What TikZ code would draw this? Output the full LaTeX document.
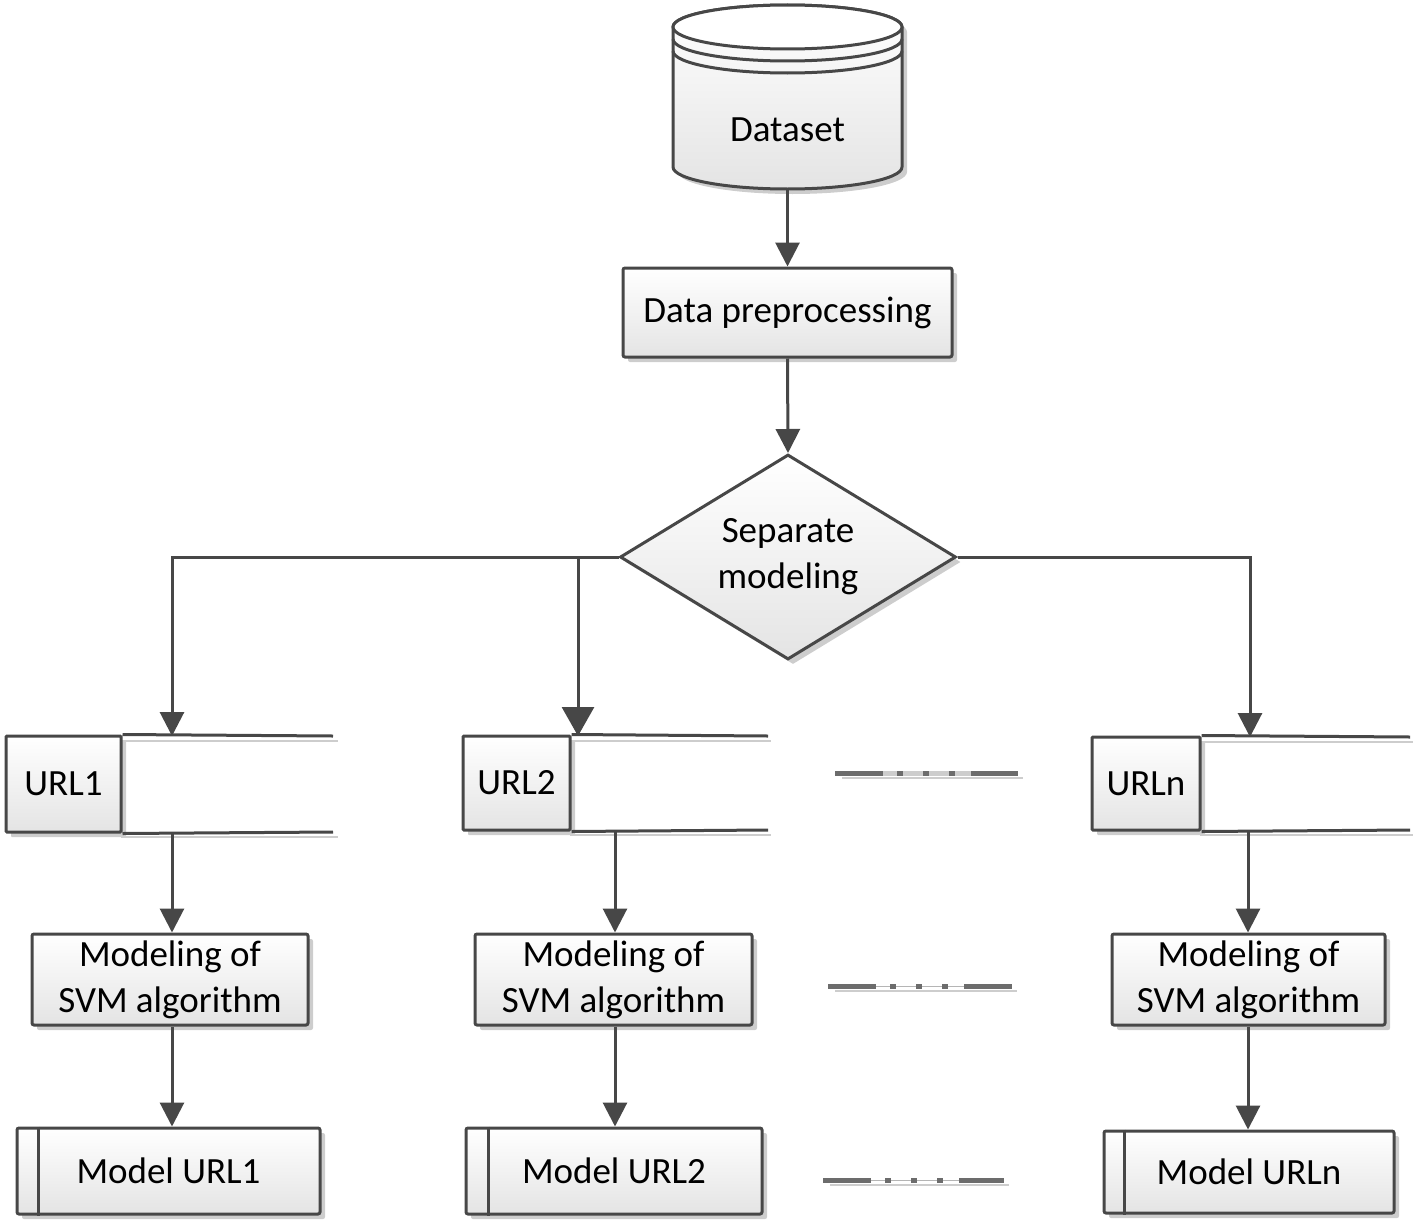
\documentclass[tikz,border=0pt]{standalone}
\usepackage{fontspec}
\setmainfont{Carlito}
\usetikzlibrary{arrows.meta,shapes.geometric,calc,shadows}
\definecolor{ln}{HTML}{474747}
\definecolor{shd}{HTML}{CDCDCD}
\definecolor{fillb}{HTML}{E4E4E4}
\begin{document}
\begin{tikzpicture}[x=1pt,y=-1pt,
  lbl/.style={font=\fontsize{37}{46}\selectfont, align=center, text=black},
  shadedfill/.style={top color=white, bottom color=fillb},
  boxst/.style={lbl, draw=ln, line width=3pt, shadedfill, rounded corners=2pt, inner sep=0pt,
    drop shadow={shadow xshift=5pt, shadow yshift=-5pt, fill=shd, opacity=1}},
  arr/.style={draw=ln, line width=3pt, -{Triangle[length=24pt,width=24pt]}},
  bigarr/.style={draw=ln, line width=3pt, -{Triangle[length=29pt,width=32pt]}},
  sepln/.style={draw=ln, line width=3pt},
  shdln/.style={draw=shd, line width=2.5pt},
  dotln/.style={draw=ln!80, line width=5pt, dash pattern=on 48pt off 14pt on 6pt off 20pt on 6pt off 20pt on 6pt off 16pt on 60pt},
  dotbg/.style={draw=shd, line width=5pt},
]
\useasboundingbox (0,0) rectangle (1418,1231);

% ---------- Dataset cylinder ----------
\fill[shd] (678,32) -- (678,172) arc[start angle=180,end angle=360,x radius=114.5pt,y radius=22pt] -- (907,32) arc[start angle=0,end angle=180,x radius=114.5pt,y radius=22pt] -- cycle;
\path[shadedfill, draw=ln, line width=3pt] (673,27) -- (673,167) arc[start angle=180,end angle=360,x radius=114.5pt,y radius=22pt] -- (902,27) arc[start angle=0,end angle=180,x radius=114.5pt,y radius=22pt] -- cycle;
\draw[draw=ln, line width=3pt, fill=white] (787.5,27) ellipse[x radius=114.5pt,y radius=22pt];
\draw[draw=ln, line width=3pt] (673,39) arc[start angle=180,end angle=360,x radius=114.5pt,y radius=22pt];
\draw[draw=ln, line width=3pt] (673,51) arc[start angle=180,end angle=360,x radius=114.5pt,y radius=22pt];
\node[lbl] (ds) at (787.5,130) {Dataset};
\coordinate (dsb) at (787.5,189);

% ---------- Data preprocessing ----------
\node[boxst, minimum width=329pt, minimum height=89pt] (pre) at (787.5,312.5) {Data preprocessing};

% ---------- Diamond ----------
\node[boxst, diamond, aspect=1.64, rounded corners=0pt, minimum width=336pt, minimum height=205pt] (dia) at (788,557) {Separate\\modeling};

% ---------- URL shapes ----------
% URL1
\draw[shdln] (121,741) -- (338,741);
\draw[shdln] (121,837) -- (338,837);
\node[boxst, rounded corners=1pt, minimum width=115pt, minimum height=96pt] (url1) at (63.5,784) {URL1};
\coordinate (u1e) at (333,736);
\coordinate (u1f) at (333,832);
\draw[sepln] (url1.north east) -- (u1e);
\draw[sepln] (url1.south east) -- (u1f);
\coordinate (u1in) at (172,736);
\coordinate (u1out) at (172,832);
% URL2
\draw[shdln] (570,741) -- (771,741);
\draw[shdln] (570,835) -- (771,835);
\node[boxst, rounded corners=1pt, minimum width=107pt, minimum height=94pt] (url2) at (516.5,783) {URL2};
\coordinate (u2e) at (768,736);
\coordinate (u2f) at (768,830);
\draw[sepln] (url2.north east) -- (u2e);
\draw[sepln] (url2.south east) -- (u2f);
\coordinate (u2in) at (578,736);
\coordinate (u2out) at (615,830);
% URLn
\draw[shdln] (1200,742) -- (1413,742);
\draw[shdln] (1200,835) -- (1413,835);
\node[boxst, rounded corners=1pt, minimum width=108pt, minimum height=93pt] (urln) at (1146,783.5) {URLn};
\coordinate (une) at (1410,737);
\coordinate (unf) at (1410,830);
\draw[sepln] (urln.north east) -- (une);
\draw[sepln] (urln.south east) -- (unf);
\coordinate (unin) at (1250,737);
\coordinate (unout) at (1248,830);

% ---------- Modeling boxes ----------
\node[boxst, minimum width=276pt, minimum height=91pt] (mod1) at (170,979.5) {Modeling of\\SVM algorithm};
\node[boxst, minimum width=277pt, minimum height=91pt] (mod2) at (613.5,979.5) {Modeling of\\SVM algorithm};
\node[boxst, minimum width=273pt, minimum height=91pt] (modn) at (1248.5,979.5) {Modeling of\\SVM algorithm};

% ---------- Model boxes ----------
\node[boxst, minimum width=303pt, minimum height=86pt] (m1) at (168.5,1171) {Model URL1};
\draw[sepln] ([xshift=23pt]m1.north west) -- ([xshift=23pt]m1.south west);
\node[boxst, minimum width=296pt, minimum height=86pt] (m2) at (614,1171) {Model URL2};
\draw[sepln] ([xshift=24pt]m2.north west) -- ([xshift=24pt]m2.south west);
\node[boxst, minimum width=290pt, minimum height=82pt] (mn) at (1249,1172) {Model URLn};
\draw[sepln] ([xshift=22pt]mn.north west) -- ([xshift=22pt]mn.south west);

% ---------- ellipsis lines ----------
\coordinate (e1a) at (835,773); \coordinate (e1b) at (1018,773);
\coordinate (e2a) at (828,986); \coordinate (e2b) at (1012,986);
\coordinate (e3a) at (823,1180); \coordinate (e3b) at (1004,1180);
\draw[shdln, line width=2pt] ([xshift=7pt,yshift=-5pt]e1a) -- ([xshift=5pt,yshift=-5pt]e1b);
\draw[shdln, line width=2pt] ([xshift=7pt,yshift=-5pt]e2a) -- ([xshift=5pt,yshift=-5pt]e2b);
\draw[shdln, line width=2pt] ([xshift=7pt,yshift=-5pt]e3a) -- ([xshift=5pt,yshift=-5pt]e3b);
\draw[dotbg] (e1a) -- (e1b);
\draw[dotln] (e1a) -- (e1b);
\draw[draw=ln!40, line width=1pt] (e2a) -- (e2b);
\draw[dotln] (e2a) -- (e2b);
\draw[draw=ln!40, line width=1pt] (e3a) -- (e3b);
\draw[dotln] (e3a) -- (e3b);

% ---------- connectors ----------
\draw[arr] (dsb) -- (pre.north);
\draw[arr] (pre.south) -- (dia.north);
\draw[arr] (dia.west) -| (u1in);
\draw[bigarr] (dia.west) -| (u2in);
\draw[arr] (dia.east) -| (unin);
\draw[arr] (u1out) -- (u1out |- mod1.north);
\draw[arr] (u2out) -- (u2out |- mod2.north);
\draw[arr] (unout) -- (unout |- modn.north);
\draw[arr] (u1out |- mod1.south) -- (u1out |- m1.north);
\draw[arr] (u2out |- mod2.south) -- (u2out |- m2.north);
\draw[arr] (unout |- modn.south) -- (unout |- mn.north);
\end{tikzpicture}
\end{document}
